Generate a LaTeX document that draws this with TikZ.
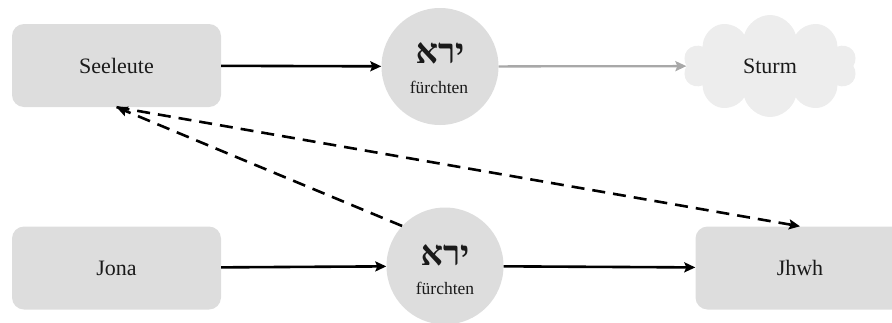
\documentclass[tikz,border=0pt]{standalone}
\usepackage{fontspec}
\setmainfont{Liberation Serif}
\newfontfamily\hebfont[Script=Hebrew]{Liberation Serif}
\TeXXeTstate=1
\usetikzlibrary{arrows.meta,shapes.symbols}
\definecolor{boxgray}{HTML}{DDDDDD}
\definecolor{cloudgray}{HTML}{EDEDED}
\definecolor{linegray}{HTML}{A8A8A8}
\definecolor{ink}{HTML}{1A1A1A}

\begin{document}
\begin{tikzpicture}[x=1pt, y=-1pt,
  every node/.style={text=ink, font=\fontsize{22}{26}\selectfont},
  party/.style={fill=boxgray, rounded corners=12pt, minimum width=209pt, minimum height=83pt},
  verb/.style={circle, fill=boxgray, minimum size=117pt},
  weather/.style={cloud, cloud puffs=10, fill=cloudgray, minimum width=174pt, minimum height=102pt},
  heb/.style={anchor=base, font=\hebfont\bfseries\fontsize{35}{40}\selectfont},
  gloss/.style={anchor=base, font=\fontsize{17.5}{20}\selectfont},
  link/.style={-{Stealth[length=11pt, width=10pt, inset=2pt]}, line width=2.6pt},
  hint/.style={link, dash pattern=on 13pt off 8pt}]
\useasboundingbox (0,0) rectangle (892,322);
% top row: sailors -- fear -- storm
\node[party] (seeleute) at (116.5,65.5) {Seeleute};
\node[verb] (yira1) at (440,66.5) {};
\node[heb] (yira1heb) at (440,63.5) {\beginR ירא\endR};
\node[gloss] (yira1de) at (439,93.5) {fürchten};
\node[weather] (sturm) at (770,66) {Sturm};
% bottom row: Jona -- fear -- Jhwh
\node[party] (jona) at (116.5,268) {Jona};
\node[verb] (yira2) at (445,266) {};
\node[heb] (yira2heb) at (445,265) {\beginR ירא\endR};
\node[gloss] (yira2de) at (445,294.5) {fürchten};
\node[party] (jhwh) at (800,268) {Jhwh};
% connectors
\draw[link] (seeleute) -- (yira1);
\draw[link, linegray, line width=2.3pt] (yira1) -- (sturm);
\draw[link] (jona) -- (yira2);
\draw[link] (yira2) -- (jhwh);
\draw[hint] (yira2.137) -- (seeleute.south);
\draw[hint] (seeleute.south) -- (jhwh.north);
\end{tikzpicture}
\end{document}
